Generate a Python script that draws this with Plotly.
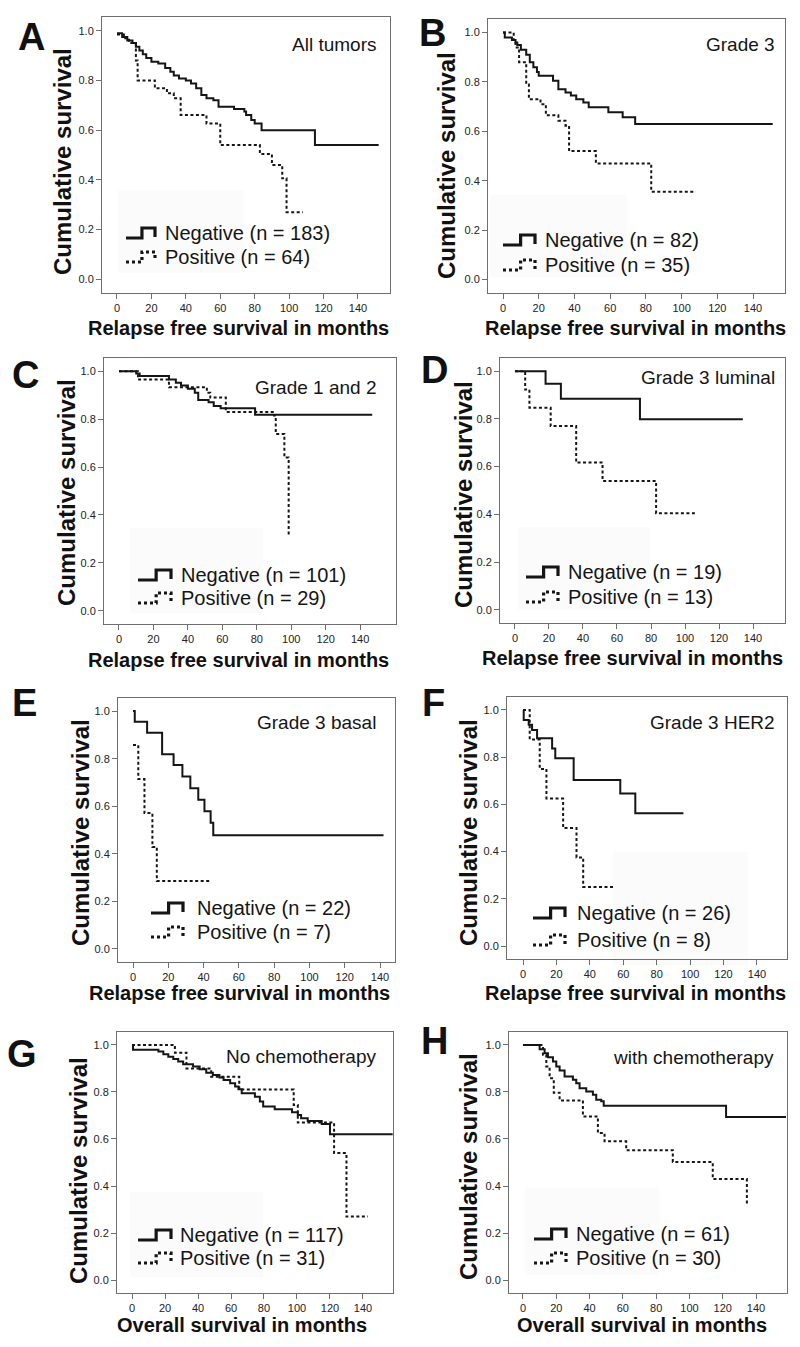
import plotly.graph_objects as go

FONT = "Arial, 'Liberation Sans', sans-serif"
W, H = 800, 1347

# ---------------- data ----------------
panel_keys = ["A", "B", "C", "D", "E", "F", "G", "H"]
subtitles = ["All tumors", "Grade 3", "Grade 1 and 2", "Grade 3 luminal",
             "Grade 3 basal", "Grade 3 HER2", "No chemotherapy", "with chemotherapy"]
x_titles = ["Relapse free survival in months"] * 6 + ["Overall survival in months"] * 2
y_title = "Cumulative survival"
neg_labels = ["Negative (n = 183)", "Negative (n = 82)", "Negative (n = 101)", "Negative (n = 19)",
              "Negative (n = 22)", "Negative (n = 26)", "Negative (n = 117)", "Negative (n = 61)"]
pos_labels = ["Positive (n = 64)", "Positive (n = 35)", "Positive (n = 29)", "Positive (n = 13)",
              "Positive (n = 7)", "Positive (n = 8)", "Positive (n = 31)", "Positive (n = 30)"]
x_ticks = [0, 20, 40, 60, 80, 100, 120, 140]
y_ticks = [0.0, 0.2, 0.4, 0.6, 0.8, 1.0]

# Kaplan-Meier step curves: event times, survival after each time, last follow-up
A_neg_t = [0, 3, 6, 9, 11, 13, 15, 17, 20, 24, 28, 31, 33, 36, 40, 43, 46, 49, 52, 56, 59, 68, 74, 75, 78, 80, 84, 115]
A_neg_s = [0.99, 0.975, 0.96, 0.95, 0.935, 0.92, 0.905, 0.89, 0.875, 0.868, 0.85, 0.835, 0.82, 0.808, 0.80, 0.788,
           0.768, 0.741, 0.728, 0.72, 0.694, 0.685, 0.675, 0.661, 0.641, 0.627, 0.60, 0.54]
A_neg_end = 152
A_pos_t = [0, 4, 7, 11, 12, 22, 29, 33, 37, 52, 60, 83, 90, 96, 98.5]
A_pos_s = [0.985, 0.97, 0.95, 0.88, 0.80, 0.768, 0.748, 0.728, 0.661, 0.627, 0.54, 0.504, 0.46, 0.406, 0.27]
A_pos_end = 108

B_neg_t = [0, 1, 5, 7, 8, 10, 13, 15, 17, 19, 20, 28, 31, 35, 38, 41, 45, 48, 59, 67, 74]
B_neg_s = [1.0, 0.98, 0.97, 0.96, 0.95, 0.93, 0.91, 0.88, 0.86, 0.84, 0.825, 0.805, 0.77, 0.757, 0.745, 0.73,
           0.717, 0.697, 0.677, 0.657, 0.63]
B_neg_end = 151
B_pos_t = [0, 6, 7, 9, 13, 14.5, 21, 24, 31, 35, 37, 52, 83]
B_pos_s = [1.0, 0.97, 0.94, 0.88, 0.79, 0.73, 0.71, 0.665, 0.643, 0.623, 0.52, 0.47, 0.355]
B_pos_end = 108

C_neg_t = [0, 10, 12, 29, 33, 36, 40, 44, 46, 52, 55, 59, 79]
C_neg_s = [1.0, 0.99, 0.98, 0.965, 0.952, 0.94, 0.927, 0.91, 0.88, 0.87, 0.855, 0.845, 0.818]
C_neg_end = 147
C_pos_t = [0, 11, 29, 51, 53, 62, 90, 91, 96, 98.5]
C_pos_s = [1.0, 0.965, 0.933, 0.91, 0.89, 0.83, 0.815, 0.738, 0.64, 0.313]
C_pos_end = 98.5

D_neg_t = [0, 18, 27, 73.5]
D_neg_s = [1.0, 0.947, 0.884, 0.798]
D_neg_end = 134
D_pos_t = [0, 6, 8.5, 21, 36, 51.5, 83]
D_pos_s = [1.0, 0.923, 0.847, 0.77, 0.617, 0.54, 0.405]
D_pos_end = 106

E_neg_t = [0, 1, 8, 16.5, 23, 28, 32.5, 37, 40.5, 44, 45.5]
E_neg_s = [1.0, 0.955, 0.909, 0.818, 0.773, 0.725, 0.676, 0.627, 0.579, 0.53, 0.478]
E_neg_end = 142
E_pos_t = [0, 3, 6.5, 11, 13.5]
E_pos_s = [0.857, 0.714, 0.571, 0.429, 0.286]
E_pos_end = 44

F_neg_t = [0, 0.4, 3.4, 5.4, 8.4, 17.4, 19.3, 30.3, 58.2, 67.2]
F_neg_s = [1.0, 0.958, 0.937, 0.915, 0.88, 0.837, 0.795, 0.703, 0.646, 0.562]
F_neg_end = 96
F_pos_t = [0, 4, 10, 14, 24, 32, 36]
F_pos_s = [1.0, 0.875, 0.75, 0.625, 0.5, 0.375, 0.25]
F_pos_end = 54

G_neg_t = [0, 0.6, 16, 19, 22, 25, 28, 31, 37, 41, 45, 49, 53, 55.5, 59.5, 62.5, 64.5, 66.5, 74.5, 77.5, 79.5,
           86.5, 97, 100.5, 102.5, 106.5, 115, 120]
G_neg_s = [1.0, 0.979, 0.972, 0.96, 0.95, 0.94, 0.93, 0.918, 0.908, 0.897, 0.882, 0.872, 0.861, 0.851, 0.837,
           0.823, 0.811, 0.794, 0.78, 0.759, 0.738, 0.726, 0.714, 0.702, 0.688, 0.677, 0.664, 0.62]
G_neg_end = 158
G_pos_t = [0, 26, 33, 48, 65, 98, 100.5, 122.5, 130]
G_pos_s = [1.0, 0.967, 0.90, 0.865, 0.81, 0.745, 0.67, 0.54, 0.27]
G_pos_end = 143

H_neg_t = [0, 10, 13, 15, 18, 20, 22, 25, 30, 32, 34, 38, 42, 44, 47, 48.5, 122]
H_neg_s = [1.0, 0.982, 0.965, 0.948, 0.93, 0.908, 0.891, 0.866, 0.852, 0.837, 0.816, 0.802, 0.788, 0.767,
           0.76, 0.741, 0.693]
H_neg_end = 158
H_pos_t = [0, 12, 14, 16, 18.5, 22, 36, 45, 49, 62, 90, 114, 134.5]
H_pos_s = [1.0, 0.958, 0.908, 0.858, 0.797, 0.764, 0.696, 0.625, 0.59, 0.552, 0.502, 0.43, 0.32]
H_pos_end = 134.5

series = {
    "A": ((A_neg_t, A_neg_s, A_neg_end), (A_pos_t, A_pos_s, A_pos_end)),
    "B": ((B_neg_t, B_neg_s, B_neg_end), (B_pos_t, B_pos_s, B_pos_end)),
    "C": ((C_neg_t, C_neg_s, C_neg_end), (C_pos_t, C_pos_s, C_pos_end)),
    "D": ((D_neg_t, D_neg_s, D_neg_end), (D_pos_t, D_pos_s, D_pos_end)),
    "E": ((E_neg_t, E_neg_s, E_neg_end), (E_pos_t, E_pos_s, E_pos_end)),
    "F": ((F_neg_t, F_neg_s, F_neg_end), (F_pos_t, F_pos_s, F_pos_end)),
    "G": ((G_neg_t, G_neg_s, G_neg_end), (G_pos_t, G_pos_s, G_pos_end)),
    "H": ((H_neg_t, H_neg_s, H_neg_end), (H_pos_t, H_pos_s, H_pos_end)),
}

# ---------------- layout geometry (pixels) ----------------
geom = {
    "A": dict(box=(102, 17, 390, 293), xr=(-8.7, 158.6), letter=(31, 37), ytitle=(63, 162), xtitle=(238, 328),
              sub=(378, 45), leg=(126, 155, 163, 233, 257), legbox=(118, 190, 243, 273)),
    "B": dict(box=(488, 19, 785, 293), xr=(-8.4, 157.9), letter=(432, 33), ytitle=(447, 166), xtitle=(635, 328),
              sub=(777, 45), leg=(503, 535, 543, 240, 265), legbox=(490, 195, 627, 277)),
    "C": dict(box=(104, 358, 396, 624), xr=(-8.7, 160.8), letter=(25, 375), ytitle=(67, 493), xtitle=(238, 660),
              sub=(378, 387), leg=(138, 171, 179, 575, 598), legbox=(130, 528, 263, 613)),
    "D": dict(box=(500, 358, 785, 623), xr=(-8.8, 158.8), letter=(435, 370), ytitle=(463, 495), xtitle=(632, 658),
              sub=(777, 377), leg=(526, 558, 566, 572, 597), legbox=(518, 527, 650, 610)),
    "E": dict(box=(118, 698, 395, 962), xr=(-8.5, 148.5), letter=(24, 703), ytitle=(80, 833), xtitle=(239, 993),
              sub=(378, 722), leg=(151, 183, 195, 908, 932), legbox=None),
    "F": dict(box=(507, 697, 787, 959), xr=(-9.6, 158.0), letter=(433, 703), ytitle=(468, 833), xtitle=(635, 993),
              sub=(777, 722), leg=(533, 565, 575, 913, 940), legbox=(613, 852, 748, 965)),
    "G": dict(box=(117, 1032, 393, 1293), xr=(-9.1, 158.2), letter=(22, 1054), ytitle=(78, 1171), xtitle=(242, 1325),
              sub=(378, 1056), leg=(138, 171, 178, 1235, 1258), legbox=(130, 1192, 263, 1277)),
    "H": dict(box=(509, 1032, 787, 1293), xr=(-8.4, 158.6), letter=(435, 1041), ytitle=(468, 1167), xtitle=(642, 1325),
              sub=(776, 1057), leg=(534, 566, 574, 1234, 1258), legbox=(525, 1188, 659, 1275)),
}
Y_RANGE = (-0.055, 1.055)


def px(x):
    return x / W


def py(y):
    return 1 - y / H


fig = go.Figure()
shapes = []
annotations = []
layout_axes = {}

for i, key in enumerate(panel_keys):
    n = i + 1
    g = geom[key]
    xa = "x" if n == 1 else f"x{n}"
    ya = "y" if n == 1 else f"y{n}"
    xname = "xaxis" if n == 1 else f"xaxis{n}"
    yname = "yaxis" if n == 1 else f"yaxis{n}"

    (nt, ns, nend), (pt, ps, pend) = series[key]
    for t, s, end, dash, width in ((nt, ns, nend, "solid", 2.0), (pt, ps, pend, "3px,2.5px", 2.0)):
        xs = list(t) + [end]
        ys = list(s) + [s[-1]]
        fig.add_trace(go.Scatter(x=xs, y=ys, mode="lines",
                                 line=dict(shape="hv", color="#151515", width=width, dash=dash),
                                 xaxis=xa, yaxis=ya, showlegend=False, hoverinfo="skip"))

    x0, y0, x1, y1 = g["box"]
    common = dict(showline=True, mirror=True, linecolor="#6e6e6e", linewidth=1, ticks="outside",
                  ticklen=5, tickcolor="#6e6e6e", tickwidth=1, showgrid=False, zeroline=False,
                  tickfont=dict(family=FONT, size=11, color="#222"), fixedrange=True)
    layout_axes[xname] = dict(common, domain=[px(x0), px(x1)], range=list(g["xr"]), anchor=ya,
                              tickvals=x_ticks, ticktext=[str(v) for v in x_ticks])
    layout_axes[yname] = dict(common, domain=[py(y1), py(y0)], range=list(Y_RANGE), anchor=xa,
                              tickvals=y_ticks, ticktext=[f"{v:.1f}" for v in y_ticks])

    # very faint legend background
    if g["legbox"] is not None:
        bx0, by0, bx1, by1 = g["legbox"]
        shapes.append(dict(type="rect", xref="paper", yref="paper", x0=px(bx0), x1=px(bx1),
                           y0=py(by1), y1=py(by0), fillcolor="#fbfbfb", line=dict(width=0), layer="below"))

    # legend glyphs
    gx0, gx1, tx, ny, pyy = g["leg"]
    gmid = gx0 + 0.55 * (gx1 - gx0)
    for cy, dash in ((ny, "solid"), (pyy, "3px,3px")):
        yt, yb = cy - 5, cy + 5
        path = (f"M {px(gx0)} {py(yb)} L {px(gmid)} {py(yb)} L {px(gmid)} {py(yt)} "
                f"L {px(gx1)} {py(yt)} L {px(gx1)} {py(yb - 1)}")
        shapes.append(dict(type="path", xref="paper", yref="paper", path=path,
                           line=dict(color="#151515", width=3.2, dash=dash)))
    annotations.append(dict(text=neg_labels[i], xref="paper", yref="paper", x=px(tx), y=py(ny),
                            xanchor="left", yanchor="middle", showarrow=False,
                            font=dict(family=FONT, size=20, color="#151515")))
    annotations.append(dict(text=pos_labels[i], xref="paper", yref="paper", x=px(tx), y=py(pyy),
                            xanchor="left", yanchor="middle", showarrow=False,
                            font=dict(family=FONT, size=20, color="#151515")))

    # subtitle
    sx, sy = g["sub"]
    annotations.append(dict(text=subtitles[i], xref="paper", yref="paper", x=px(sx), y=py(sy),
                            xanchor="right", yanchor="middle", showarrow=False,
                            font=dict(family=FONT, size=19, color="#151515")))
    # panel letter
    lx, ly = g["letter"]
    annotations.append(dict(text=f"<b>{key}</b>", xref="paper", yref="paper", x=px(lx), y=py(ly),
                            xanchor="center", yanchor="middle", showarrow=False,
                            font=dict(family=FONT, size=38, color="#111")))
    # axis titles
    yx, yy = g["ytitle"]
    annotations.append(dict(text=f"<b>{y_title}</b>", xref="paper", yref="paper", x=px(yx), y=py(yy),
                            xanchor="center", yanchor="middle", textangle=-90, showarrow=False,
                            font=dict(family=FONT, size=24, color="#111")))
    xx, xy = g["xtitle"]
    annotations.append(dict(text=f"<b>{x_titles[i]}</b>", xref="paper", yref="paper", x=px(xx), y=py(xy),
                            xanchor="center", yanchor="middle", showarrow=False,
                            font=dict(family=FONT, size=20, color="#111")))

fig.update_layout(width=W, height=H, margin=dict(l=0, r=0, t=0, b=0),
                  paper_bgcolor="white", plot_bgcolor="white",
                  shapes=shapes, annotations=annotations, showlegend=False, **layout_axes)

fig.write_html("out.html", config={"displayModeBar": False},
               post_script="document.body.style.margin='0px';")
